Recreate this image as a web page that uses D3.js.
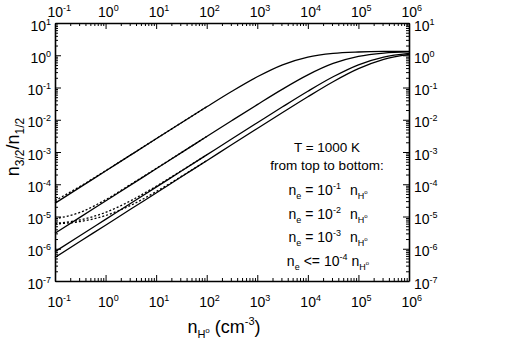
<!DOCTYPE html>
<html>
<head>
<meta charset="utf-8">
<script src="https://cdn.jsdelivr.net/npm/d3@7"></script>
<style>
  body { margin: 0; background: #fff; }
  svg text { font-family: "Liberation Sans", Arial, sans-serif; fill: #000; }
</style>
</head>
<body>
<div id="graph"></div>
<script>
// plot frame
const WIDTH = 518, HEIGHT = 361;
const LEFT = 55, RIGHT = 409, TOP = 23, BOTTOM = 281;

// n_H0 values where the curves were read (cm^-3)
const densities = [0.1, 0.316, 1, 3.16, 10, 31.6, 100, 316, 1000, 3160, 1e4, 3.16e4, 1e5, 3.16e5, 1e6];

// solid curves, n3/2 / n1/2, top to bottom (ne = 1e-1, 1e-2, 1e-3, <=1e-4 nH)
const ratioNe1 = [2.57e-5, 8.13e-5, 2.57e-4, 8.13e-4, 2.57e-3, 8.07e-3, 2.52e-2, 7.66e-2, 0.215, 0.505, 0.877, 1.14, 1.26, 1.31, 1.32];
const ratioNe2 = [3.02e-6, 9.55e-6, 3.02e-5, 9.55e-5, 3.02e-4, 9.55e-4, 3.01e-3, 9.48e-3, 2.95e-2, 8.91e-2, 0.246, 0.556, 0.923, 1.17, 1.27];
const ratioNe3 = [8.13e-7, 2.57e-6, 8.13e-6, 2.57e-5, 8.13e-5, 2.57e-4, 8.13e-4, 2.57e-3, 8.07e-3, 2.52e-2, 7.66e-2, 0.215, 0.505, 0.877, 1.14];
const ratioNe4 = [5.37e-7, 1.70e-6, 5.37e-6, 1.70e-5, 5.37e-5, 1.70e-4, 5.37e-4, 1.70e-3, 5.35e-3, 1.67e-2, 5.16e-2, 0.151, 0.383, 0.745, 1.07];

// dotted curves, only where they leave the solid ones (first 7 densities)
const dottedNe1 = [3.10e-5, 8.66e-5, 2.62e-4, 8.18e-4, 2.58e-3, 8.07e-3, 2.52e-2];
const dottedNe2 = [8.50e-6, 1.35e-5, 3.31e-5, 1.00e-4, 3.08e-4, 9.60e-4, 3.02e-3];
const dottedNe3 = [6.11e-6, 7.87e-6, 1.34e-5, 3.10e-5, 8.66e-5, 2.62e-4, 8.18e-4];
const dottedNe4 = [5.84e-6, 7.00e-6, 1.07e-5, 2.23e-5, 5.90e-5, 1.75e-4, 5.42e-4];

// tick label exponents
const xTickExp = [-1, 0, 1, 2, 3, 4, 5, 6];
const yTickExp = [1, 0, -1, -2, -3, -4, -5, -6, -7];

const svg = d3.select("#graph").append("svg")
  .attr("width", WIDTH).attr("height", HEIGHT);

const xScale = d3.scaleLog().domain([0.1, 1e6]).range([LEFT, RIGHT]);
const yScale = d3.scaleLog().domain([1e-7, 10]).range([BOTTOM, TOP]);

// minor ticks 2..9 within each decade
function minors(exps) {
  const out = [];
  const lo = d3.min(exps), hi = d3.max(exps);
  for (let e = lo; e < hi; e++)
    for (let m = 2; m <= 9; m++) out.push(m * Math.pow(10, e));
  return out;
}
const xMajor = xTickExp.map(e => Math.pow(10, e));
const yMajor = yTickExp.map(e => Math.pow(10, e));

function axis(fn, scale, major, minor, transform) {
  const gMaj = svg.append("g").attr("transform", transform)
    .call(fn(scale).tickValues(major).tickSize(-6).tickSizeOuter(0).tickFormat(""));
  gMaj.select(".domain").attr("stroke-width", 1.6);
  const gMin = svg.append("g").attr("transform", transform)
    .call(fn(scale).tickValues(minor).tickSize(-3).tickSizeOuter(0).tickFormat(""));
  gMin.select(".domain").remove();
  svg.selectAll(".tick line").attr("stroke-width", 1);
}
axis(d3.axisBottom, xScale, xMajor, minors(xTickExp), `translate(0,${BOTTOM})`);
axis(d3.axisTop, xScale, xMajor, minors(xTickExp), `translate(0,${TOP})`);
axis(d3.axisLeft, yScale, yMajor, minors(yTickExp), `translate(${LEFT},0)`);
axis(d3.axisRight, yScale, yMajor, minors(yTickExp), `translate(${RIGHT},0)`);

// "10^e" labels
function powerLabel(x, y, e, anchor) {
  const t = svg.append("text").attr("x", x).attr("y", y)
    .attr("text-anchor", anchor).style("font-size", "14px");
  t.append("tspan").text("10");
  t.append("tspan").attr("dy", -6).style("font-size", "9px").text(e);
}
xTickExp.forEach(e => {
  powerLabel(xScale(Math.pow(10, e)) - 7.5, 17, e, "start");
  powerLabel(xScale(Math.pow(10, e)) - 7.5, 306.5, e, "start");
});
yTickExp.forEach(e => {
  powerLabel(LEFT - 4, yScale(Math.pow(10, e)) + 7.5, e, "end");
  powerLabel(RIGHT + 5, yScale(Math.pow(10, e)) + 7.5, e, "start");
});

// curves
const line = d3.line()
  .x(d => xScale(d[0]))
  .y(d => yScale(d[1]))
  .curve(d3.curveMonotoneX);

[ratioNe1, ratioNe2, ratioNe3, ratioNe4].forEach(vals => {
  svg.append("path")
    .attr("d", line(densities.map((n, i) => [n, vals[i]])))
    .attr("fill", "none").attr("stroke", "#000").attr("stroke-width", 1.3);
});
[dottedNe1, dottedNe2, dottedNe3, dottedNe4].forEach(vals => {
  svg.append("path")
    .attr("d", line(vals.map((v, i) => [densities[i], v])))
    .attr("fill", "none").attr("stroke", "#000").attr("stroke-width", 1.3)
    .attr("stroke-dasharray", "2,2");
});

// axis titles
const xt = svg.append("text").attr("x", 224).attr("y", 333)
  .attr("text-anchor", "middle").style("font-size", "18px");
xt.append("tspan").text("n");
xt.append("tspan").attr("dy", 5).style("font-size", "11px").text("H");
xt.append("tspan").attr("dy", -5).style("font-size", "8px").text("o");
xt.append("tspan").attr("dy", 0).text(" (cm");
xt.append("tspan").attr("dy", -8).style("font-size", "11px").text("-3");
xt.append("tspan").attr("dy", 8).text(")");

const yt = svg.append("text")
  .attr("transform", "translate(19,147) rotate(-90)")
  .attr("text-anchor", "middle").style("font-size", "18px");
yt.append("tspan").text("n");
yt.append("tspan").attr("dy", 5).style("font-size", "12px").text("3/2");
yt.append("tspan").attr("dy", -5).text("/n");
yt.append("tspan").attr("dy", 5).style("font-size", "12px").text("1/2");

// annotation
const NOTE_X = 327;
svg.append("text").attr("x", NOTE_X).attr("y", 152).attr("text-anchor", "middle")
  .style("font-size", "13.5px").text("T = 1000 K");
svg.append("text").attr("x", NOTE_X).attr("y", 170).attr("text-anchor", "middle")
  .style("font-size", "13.5px").text("from top to bottom:");

const neLabels = [
  { rel: "= 10", exp: "-1", gap: 9 },
  { rel: "= 10", exp: "-2", gap: 9 },
  { rel: "= 10", exp: "-3", gap: 9 },
  { rel: "<= 10", exp: "-4", gap: 4 }
];
const neY = [195, 218.5, 242, 265.5];
neLabels.forEach((d, i) => {
  const t = svg.append("text").attr("x", NOTE_X + 1).attr("y", neY[i])
    .attr("text-anchor", "middle").style("font-size", "14px");
  t.append("tspan").text("n");
  t.append("tspan").attr("dy", 4).style("font-size", "9px").text("e");
  t.append("tspan").attr("dy", -4).attr("dx", 4).text(d.rel);
  t.append("tspan").attr("dy", -6).style("font-size", "9px").text(d.exp);
  t.append("tspan").attr("dy", 6).attr("dx", d.gap).text("n");
  t.append("tspan").attr("dy", 4).style("font-size", "9px").text("H");
  t.append("tspan").attr("dy", -5).style("font-size", "6px").text("o");
});
</script>
</body>
</html>
